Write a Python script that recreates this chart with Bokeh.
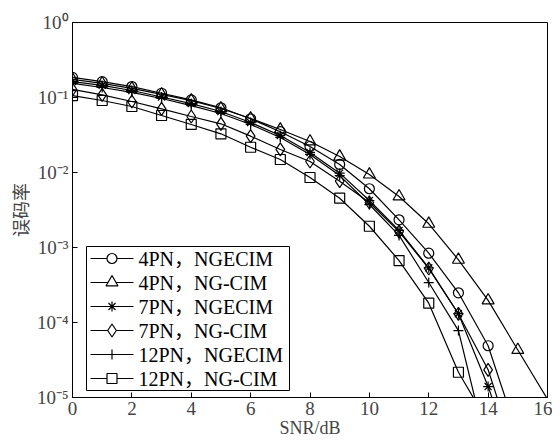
from bokeh.plotting import figure
from bokeh.models import FixedTicker, CustomJSTickFormatter, Range1d, LinearScale
from bokeh.core.properties import value
from bokeh.embed import file_html
from bokeh.resources import INLINE

snr_a = [0, 1, 2, 3, 4, 5, 6, 7, 8, 9, 10, 11, 12, 13, 14, 15]
snr_b = [0, 1, 2, 3, 4, 5, 6, 7, 8, 9, 10, 11, 12, 13, 14, 15, 16]
snr_c = [0, 1, 2, 3, 4, 5, 6, 7, 8, 9, 10, 11, 12, 13, 14]

ber_4pn_ngecim = [0.185, 0.163, 0.140, 0.114, 0.093, 0.073, 0.052, 0.035, 0.0222, 0.0128,
                  0.00607, 0.00234, 0.00084, 0.000249, 4.9e-5, 3.1e-6]
ber_4pn_ngcim = [0.174, 0.154, 0.132, 0.110, 0.091, 0.0713, 0.0525, 0.0374, 0.0259, 0.0163,
                 0.0094, 0.00479, 0.00207, 0.000686, 0.000197, 4.3e-5, 9.5e-6]
ber_7pn_ngecim = [0.163, 0.145, 0.124, 0.1016, 0.083, 0.065, 0.0464, 0.0311, 0.0185, 0.0098,
                  0.00423, 0.00169, 0.000536, 0.000131, 1.4e-5, 1.0e-6]
ber_7pn_ngcim = [0.128, 0.1086, 0.0885, 0.0706, 0.0558, 0.0446, 0.0305, 0.0203, 0.0140, 0.00766,
                 0.00398, 0.00163, 0.000525, 0.00013, 2.34e-5, 1.4e-6]
ber_12pn_ngecim = [0.154, 0.136, 0.117, 0.097, 0.078, 0.0612, 0.0437, 0.0293, 0.0174, 0.0091,
                   0.00374, 0.00145, 0.000341, 7.8e-5, 1.85e-6]
ber_12pn_ngcim = [0.106, 0.0912, 0.0759, 0.0575, 0.0437, 0.0328, 0.0217, 0.0149, 0.00858, 0.00454,
                  0.00192, 0.00067, 0.000181, 2.17e-5, 4.6e-6]

series_names = ["4PN，NGECIM", "4PN，NG-CIM", "7PN，NGECIM", "7PN，NG-CIM",
                "12PN，NGECIM", "12PN，NG-CIM"]
series_x = [snr_a, snr_b, snr_a, snr_a, snr_c, snr_c]
series_y = [ber_4pn_ngecim, ber_4pn_ngcim, ber_7pn_ngecim, ber_7pn_ngcim,
            ber_12pn_ngecim, ber_12pn_ngcim]
series_markers = ["circle", "triangle", "asterisk", "diamond", "cross", "square"]
series_sizes = [10, 12, 10, 13, 10, 10]

x_ticks = [0, 2, 4, 6, 8, 10, 12, 14, 16]
y_ticks = [1e-5, 1e-4, 1e-3, 1e-2, 1e-1, 1]
y_tick_labels = ["10⁻⁵", "10⁻⁴", "10⁻³", "10⁻²", "10⁻¹", "10⁰"]

FONT = "'Liberation Serif', 'Noto Sans CJK SC', serif"

W, H = 552, 440
BL, BR, BT, BB = 72, 5, 22, 43
FW, FH = W - BL - BR, H - BT - BB

p = figure(width=W, height=H, x_range=(0, 16), y_range=(1e-5, 1),
           y_axis_type="log", output_backend="svg", toolbar_location=None,
           min_border_left=BL, min_border_right=BR, min_border_top=BT,
           min_border_bottom=BB)
p.grid.visible = False
p.outline_line_color = "black"
p.outline_line_width = 1
p.background_fill_color = "white"
# pixel-unit ranges (linear) used only for placing the legend box
p.extra_x_ranges = {"px": Range1d(0, FW)}
p.extra_y_ranges = {"py": Range1d(0, FH)}
p.extra_x_scales = {"px": LinearScale()}
p.extra_y_scales = {"py": LinearScale()}

for name, xs, ys, mk, sz in zip(series_names, series_x, series_y, series_markers, series_sizes):
    p.line(xs, ys, line_color="black", line_width=1.2)
    mx = [a for a, b in zip(xs, ys) if b >= 1e-5]
    my = [b for b in ys if b >= 1e-5]
    p.scatter(mx, my, marker=mk, size=sz, fill_alpha=0, line_color="black", line_width=1.2)

# legend (drawn in pixel units inside the frame)
LG_LEFT, LG_BOTTOM, LG_W, ROW_H, PAD = 14, 7, 203, 24, 0
n = len(series_names)
LG_TOP = LG_BOTTOM + 2 * PAD + n * ROW_H
p.quad(left=LG_LEFT, right=LG_LEFT + LG_W, bottom=LG_BOTTOM, top=LG_TOP,
       fill_color="white", line_color="black", line_width=1,
       x_range_name="px", y_range_name="py")
row_y = [LG_TOP - PAD - ROW_H * (i + 0.5) for i in range(n)]
g0, g1 = LG_LEFT + 4, LG_LEFT + 47
p.segment(x0=[g0] * n, x1=[g1] * n, y0=row_y, y1=row_y, line_color="black",
          line_width=1.2, x_range_name="px", y_range_name="py")
for i in range(n):
    p.scatter([(g0 + g1) / 2], [row_y[i]], marker=series_markers[i], size=series_sizes[i],
              fill_color="white", line_color="black", line_width=1.2,
              x_range_name="px", y_range_name="py")
p.text(x=[g1 + 5] * n, y=row_y, text=series_names, text_font=value(FONT),
       text_font_size="20px", text_baseline="middle", text_align="left",
       text_color="black", x_range_name="px", y_range_name="py")

xa = p.xaxis[0]
xa.ticker = FixedTicker(ticks=x_ticks, minor_ticks=[])
xa.major_tick_in = 5
xa.major_tick_out = 0
xa.minor_tick_in = 0
xa.minor_tick_out = 0
xa.major_label_text_font = FONT
xa.major_label_text_font_size = "19px"
xa.major_label_standoff = 4
xa.axis_label = "SNR/dB"
xa.axis_label_text_font = FONT
xa.axis_label_text_font_size = "18px"
xa.axis_label_text_font_style = "normal"
xa.axis_label_standoff = 0
xa.axis_line_color = "black"

ya = p.yaxis[0]
ya.ticker = FixedTicker(ticks=y_ticks, minor_ticks=[])
ya.formatter = CustomJSTickFormatter(args=dict(vals=y_ticks, labels=y_tick_labels), code="""
for (let i = 0; i < vals.length; i++) {
  if (Math.abs(Math.log10(tick) - Math.log10(vals[i])) < 1e-6) { return labels[i]; }
}
return "";
""")
ya.major_tick_in = 5
ya.major_tick_out = 0
ya.minor_tick_in = 0
ya.minor_tick_out = 0
ya.major_label_text_font = FONT
ya.major_label_text_font_size = "19px"
ya.major_label_standoff = 4
ya.axis_label = "误码率"
ya.axis_label_text_font = "'Noto Sans CJK SC'"
ya.axis_label_text_font_size = "18px"
ya.axis_label_text_font_style = "normal"
ya.axis_label_text_line_height = 1.0
ya.axis_label_standoff = 1
ya.axis_line_color = "black"

open("out.html", "w").write(file_html(p, INLINE))
